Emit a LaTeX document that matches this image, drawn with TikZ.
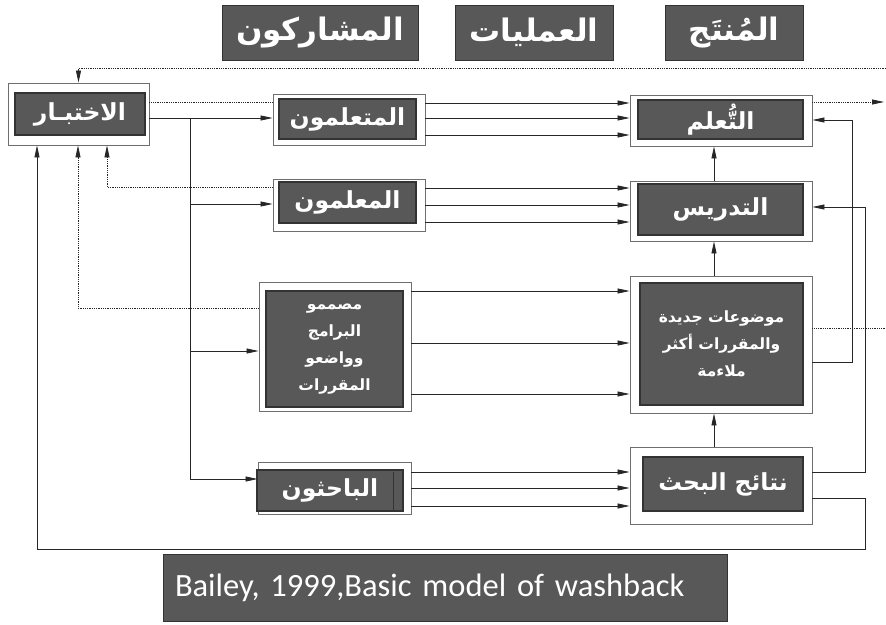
\documentclass[tikz,border=0pt]{standalone}
\usepackage{fontspec}
\setmainfont{Carlito}
\newfontfamily\arabicfont[Script=Arabic]{DejaVu Sans}
\TeXXeTstate=1
\usetikzlibrary{arrows.meta}
\definecolor{boxgray}{HTML}{585858}
\definecolor{edgegray}{HTML}{333333}
\definecolor{framegray}{HTML}{6E6E6E}
\definecolor{linegray}{HTML}{262626}
\newcommand{\artxt}[1]{{\arabicfont\beginR #1\endR}}

\begin{document}
\begin{tikzpicture}[x=1pt,y=-1pt,
  outerbox/.style={draw=framegray, line width=0.9pt, fill=white, inner sep=0pt},
  innerbox/.style={draw=edgegray, line width=1.3pt, fill=boxgray, text=white,
    inner sep=0pt, align=center, font=\bfseries\fontsize{23.5}{27}\selectfont},
  smalltext/.style={font=\bfseries\fontsize{15.5}{27}\selectfont},
  headbox/.style={draw=edgegray, line width=1pt, fill=boxgray, text=white,
    inner sep=0pt, font=\bfseries\fontsize{31}{34}\selectfont},
  conn/.style={draw=linegray, line width=0.8pt},
  arr/.style={conn, -{Triangle[length=12pt,width=5pt]}},
  dots/.style={conn, densely dotted},
]
\useasboundingbox (0,0) rectangle (886,624);

% column headers
\node[headbox, minimum width=196pt, minimum height=55pt] (hpart) at (320,32.5) {\artxt{المشاركون}};
\node[headbox, minimum width=158pt, minimum height=55pt] (hproc) at (534,32.5) {\artxt{العمليات}};
\node[headbox, minimum width=138pt, minimum height=55pt] (hprod) at (734,32.5) {\artxt{المُنتَج}};

% the test
\node[outerbox, minimum width=141pt, minimum height=62pt] (test) at (78.5,114) {};
\node[innerbox, minimum width=130pt, minimum height=42pt] (testin) at (80,114) {\artxt{الاختبـار}};

% participants
\node[outerbox, minimum width=152pt, minimum height=51pt] (learners) at (349,119.5) {};
\node[innerbox, minimum width=137pt, minimum height=40pt] (learnersin) at (347.5,119) {\artxt{المتعلمون}};

\node[outerbox, minimum width=152pt, minimum height=52pt] (teachers) at (349,205) {};
\node[innerbox, minimum width=137pt, minimum height=41pt] (teachersin) at (347.5,202.5) {\artxt{المعلمون}};

\node[outerbox, minimum width=152pt, minimum height=129pt] (designers) at (335,346.5) {};
\node[innerbox, smalltext, minimum width=137pt, minimum height=116pt] (designersin) at (334.5,349)
  {\artxt{مصممو}\\\artxt{البرامج}\\\artxt{وواضعو}\\\artxt{المقررات}};

\node[outerbox, minimum width=153pt, minimum height=52pt] (researchers) at (334.5,488) {};
\node[innerbox, minimum width=146pt, minimum height=41pt] (researchersin) at (330,490.5) {\artxt{الباحثون}};
\draw[edgegray, line width=1pt] (393,471.5) -- (393,509.5);

% products
\node[outerbox, minimum width=182pt, minimum height=51pt] (learning) at (721,120.5) {};
\node[innerbox, minimum width=165pt, minimum height=39pt] (learningin) at (720.5,119.5) {\artxt{التُّعلم}};

\node[outerbox, minimum width=182pt, minimum height=60pt] (teaching) at (721,211) {};
\node[innerbox, minimum width=165pt, minimum height=51pt] (teachingin) at (720.5,209.5) {\artxt{التدريس}};

\node[outerbox, minimum width=182pt, minimum height=137pt] (materials) at (721,344.5) {};
\node[innerbox, smalltext, minimum width=163pt, minimum height=122pt] (materialsin) at (721.5,344)
  {\artxt{موضوعات جديدة}\\\artxt{والمقررات أكثر}\\\artxt{ملاءمة}};

\node[outerbox, minimum width=182pt, minimum height=77pt] (results) at (721,485.5) {};
\node[innerbox, minimum width=160pt, minimum height=54pt] (resultsin) at (723,484) {\artxt{نتائج البحث}};

% caption
\node[draw=edgegray, line width=1pt, fill=boxgray, text=white, inner ysep=0pt, inner xsep=12pt,
  text width=540pt, align=left, minimum height=67pt,
  font=\fontsize{32.5}{35}\selectfont] (caption) at (445,587.5)
  {Bailey, 1999,Basic model of washback};

% outer feedback into the test
\coordinate (topend) at (886,68);
\draw[dots, arr] (topend) -| (test.north);

% test to the participants
\coordinate (split) at (190,118);
\draw[dots] (test.east |- 0,102) -- (learners.west |- 0,102);
\draw[arr] (test.east |- 0,118) -- (learners.west |- 0,118);
\draw[conn] (split) -- (190,479);
\draw[arr] (190,204) -- (teachers.west |- 0,204);
\draw[arr] (190,351) -- (designers.west |- 0,351);
\draw[arr] (190,479) -- (researchers.west |- 0,479);

% participants feeding back into the test
\draw[dots, arr] (teachers.west |- 0,187) -| (test.south -| 107,0);
\draw[dots, arr] (designers.west |- 0,308) -| (test.south -| 78,0);
\draw[arr] (results.east |- 0,498) -- (865,498) -- (865,549) -- (37,549) -- (test.south -| 37,0);

% participants to products
\foreach \yy in {103,118,135} \draw[arr] (learners.east |- 0,\yy) -- (learning.west |- 0,\yy);
\foreach \yy in {188,205,222} \draw[arr] (teachers.east |- 0,\yy) -- (teaching.west |- 0,\yy);
\foreach \yy in {291,343,394} \draw[arr] (designers.east |- 0,\yy) -- (materials.west |- 0,\yy);
\foreach \yy in {472,488,506} \draw[arr] (researchers.east |- 0,\yy) -- (results.west |- 0,\yy);

% links between products
\draw[arr] (teaching.north -| 714,0) -- (learning.south -| 714,0);
\draw[arr] (materials.north -| 714,0) -- (teaching.south -| 714,0);
\draw[arr] (results.north -| 714,0) -- (materials.south -| 714,0);
\draw[arr] (materials.east |- 0,362) -| (852,120) -- (learning.east |- 0,120);
\draw[arr] (results.east |- 0,472) -| (865,207) -- (teaching.east |- 0,207);

% outgoing dotted lines
\coordinate (outA) at (884,102);
\coordinate (outB) at (886,328);
\draw[dots, arr] (learning.east |- 0,102) -- (outA);
\draw[dots] (materials.east |- 0,328) -- (outB);
\end{tikzpicture}
\end{document}
